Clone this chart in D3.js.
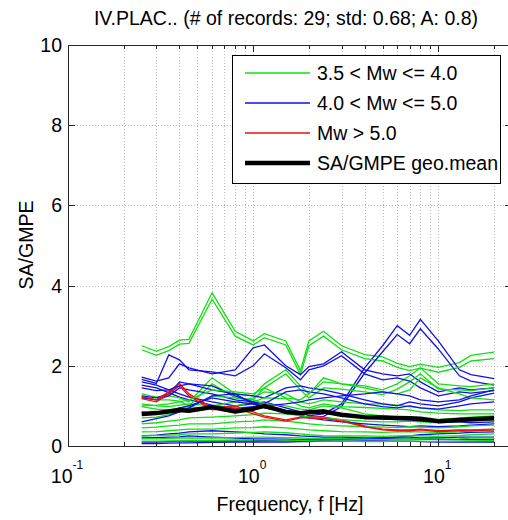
<html>
<head>
<script src="https://d3js.org/d3.v7.min.js"></script>
<style>
  body { margin: 0; background: #fff; }
  svg text { font-family: "Liberation Sans", Arial, sans-serif; fill: #000; }
</style>
</head>
<body>
<svg id="chart" width="508" height="520"></svg>
<script>
// frequencies (Hz) at which every curve is sampled
var freqs = [0.25, 0.3, 0.35, 0.4, 0.45, 0.6, 0.8, 1, 1.15, 1.5, 1.8, 2, 2.4, 3, 4, 5, 6, 7, 8, 10, 13, 15, 20];

// 3.5 < Mw <= 4.0
var greenCurves = [
  [2.50,2.36,2.48,2.64,2.66,3.82,2.86,2.62,2.80,2.62,1.88,2.62,2.86,2.50,2.28,2.22,2.06,1.98,2.04,1.96,2.08,2.26,2.34],
  [2.40,2.26,2.38,2.54,2.56,3.66,2.74,2.52,2.70,2.52,1.78,2.50,2.74,2.40,2.18,2.12,1.96,1.88,1.94,1.84,1.96,2.12,2.18],
  [1.30,1.22,1.25,1.20,1.10,1.70,1.30,1.25,1.55,1.90,1.50,1.30,1.60,1.55,1.50,1.40,1.55,1.75,1.95,1.55,1.50,1.48,1.55],
  [1.22,1.15,1.15,1.12,1.00,1.55,1.20,1.15,1.45,1.80,1.40,1.20,1.45,1.42,1.35,1.28,1.42,1.60,1.80,1.42,1.40,1.38,1.45],
  [1.05,1.00,0.98,1.02,1.05,1.00,1.10,1.20,1.35,1.30,1.10,1.05,1.15,1.10,1.05,1.05,1.02,0.98,0.95,0.90,0.88,0.90,0.90],
  [0.98,0.92,0.90,0.95,0.98,0.92,1.00,1.10,1.20,1.18,1.00,0.95,1.05,0.98,0.96,0.94,0.92,0.90,0.85,0.82,0.80,0.80,0.80],
  [0.70,0.72,0.78,0.85,0.95,1.25,1.20,1.15,1.05,1.00,0.92,0.90,1.00,0.95,0.80,0.75,0.72,0.70,0.68,0.66,0.70,0.72,0.75],
  [0.55,0.58,0.62,0.65,0.70,0.72,0.75,0.78,0.82,0.80,0.76,0.72,0.70,0.66,0.62,0.60,0.60,0.62,0.60,0.58,0.60,0.62,0.65],
  [0.45,0.47,0.50,0.52,0.55,0.55,0.60,0.62,0.65,0.62,0.58,0.55,0.52,0.50,0.48,0.47,0.46,0.48,0.47,0.45,0.48,0.50,0.52],
  [0.35,0.36,0.38,0.40,0.42,0.42,0.45,0.46,0.48,0.45,0.42,0.40,0.38,0.36,0.35,0.34,0.35,0.36,0.35,0.34,0.35,0.38,0.40],
  [0.25,0.26,0.27,0.28,0.30,0.30,0.32,0.34,0.35,0.33,0.30,0.28,0.26,0.25,0.25,0.24,0.25,0.26,0.25,0.24,0.26,0.28,0.30],
  [0.18,0.18,0.19,0.20,0.20,0.20,0.21,0.22,0.22,0.21,0.20,0.19,0.18,0.18,0.17,0.16,0.17,0.18,0.18,0.17,0.18,0.20,0.20],
  [1.00,1.02,1.05,1.10,1.15,1.40,1.35,1.30,1.45,1.20,1.15,1.30,1.70,1.55,1.45,1.35,1.30,1.40,1.70,1.45,1.30,1.20,1.15],
  [0.12,0.12,0.13,0.13,0.14,0.14,0.15,0.15,0.16,0.15,0.14,0.13,0.12,0.12,0.11,0.11,0.12,0.12,0.12,0.11,0.12,0.13,0.14]
];

// 4.0 < Mw <= 5.0
var blueCurves = [
  [1.60,1.52,1.40,1.30,1.22,1.10,1.00,1.05,1.10,0.95,0.85,0.75,0.80,1.05,1.95,2.50,3.00,2.76,3.16,2.62,1.90,1.78,1.68],
  [1.52,1.45,1.33,1.22,1.15,1.02,0.94,0.98,1.02,0.88,0.78,0.70,0.74,0.98,1.82,2.35,2.78,2.55,2.92,2.42,1.75,1.62,1.52],
  [1.72,1.62,1.70,2.05,1.95,1.80,1.90,2.45,2.52,2.00,1.78,1.98,2.05,2.35,1.90,1.80,1.75,1.80,1.60,1.35,1.45,1.40,1.45],
  [1.66,1.56,2.27,2.15,1.90,1.85,1.75,2.00,2.30,1.95,1.65,1.90,2.00,2.25,1.80,1.65,1.70,1.62,1.45,1.25,1.35,1.32,1.38],
  [1.25,1.20,1.30,1.60,1.55,1.40,1.30,1.25,1.20,1.45,1.50,1.45,1.40,1.30,1.15,1.05,1.00,1.10,1.05,1.00,1.10,1.20,1.32],
  [1.20,1.15,1.25,1.45,1.40,1.30,1.15,1.10,1.05,1.35,1.40,1.35,1.30,1.20,1.05,0.98,0.95,1.00,0.95,0.92,1.00,1.05,1.10],
  [0.60,0.68,0.75,0.85,0.95,1.25,1.30,1.05,0.95,0.85,0.75,0.70,0.65,0.60,0.55,0.52,0.50,0.48,0.50,0.48,0.50,0.52,0.55],
  [0.25,0.27,0.30,0.32,0.35,0.38,0.35,0.33,0.30,0.28,0.25,0.24,0.22,0.22,0.20,0.20,0.22,0.22,0.20,0.20,0.22,0.22,0.22],
  [0.20,0.21,0.22,0.23,0.25,0.22,0.20,0.18,0.18,0.17,0.16,0.15,0.15,0.16,0.18,0.20,0.22,0.25,0.28,0.30,0.32,0.34,0.35],
  [0.10,0.10,0.11,0.12,0.12,0.12,0.13,0.13,0.14,0.15,0.15,0.16,0.17,0.18,0.18,0.19,0.18,0.18,0.17,0.16,0.16,0.16,0.16],
  [0.06,0.06,0.07,0.08,0.08,0.09,0.10,0.10,0.10,0.10,0.11,0.11,0.12,0.12,0.13,0.13,0.12,0.12,0.11,0.10,0.10,0.10,0.10],
  [1.45,1.38,1.40,1.50,1.55,1.50,1.25,1.10,0.95,0.85,0.80,0.85,0.90,0.75,0.70,0.68,0.66,0.65,0.62,0.60,0.60,0.58,0.60],
  [0.85,0.80,0.85,0.95,1.00,1.20,1.10,1.05,1.00,1.05,1.10,1.15,1.20,1.25,1.30,1.35,1.30,1.25,1.15,1.10,1.15,1.25,1.40]
];

// Mw > 5.0
var redCurves = [
  [1.23,1.15,1.35,1.56,1.30,0.95,1.00,0.85,0.75,0.65,0.72,0.73,0.72,0.65,0.50,0.42,0.40,0.40,0.42,0.38,0.40,0.40,0.42],
  [1.18,1.10,1.30,1.50,1.25,0.90,0.95,0.80,0.72,0.62,0.70,0.70,0.69,0.62,0.48,0.40,0.38,0.38,0.40,0.36,0.38,0.38,0.40]
];

var geoMean = [0.80,0.82,0.86,0.90,0.88,0.97,0.86,0.93,1.00,0.85,0.82,0.84,0.86,0.78,0.72,0.71,0.70,0.69,0.68,0.62,0.65,0.67,0.69];

var yTicks = [0, 2, 4, 6, 8, 10];
var xMajor = [0.1, 1, 10];
var xMajorExp = ["-1", "0", "1"];
var legendLabels = ["3.5 < Mw <= 4.0", "4.0 < Mw <= 5.0", "Mw > 5.0", "SA/GMPE geo.mean"];
var legendColors = ["#10e010", "#1010e8", "#e81010", "#000000"];

var pL = 68, pT = 45, pB = 446, pR = 512;
var fs = "19.5px";
var svg = d3.select("#chart");
var x = d3.scaleLog().domain([0.1, 25]).range([pL, pR]);
var y = d3.scaleLinear().domain([0, 10]).range([pB, pT]);

// minor+major log ticks
var xAll = [];
[0.1, 1, 10].forEach(function(d){ for (var k = 1; k < 10; k++) { if (d*k <= 25) xAll.push(d*k); } });
xAll.push(20);

var grid = svg.append("g").attr("stroke", "#bcbcbc").attr("stroke-dasharray", "1,2").attr("stroke-width", 1);
grid.selectAll(".vg").data(xAll.filter(function(d){ return d > 0.1; })).enter().append("line")
  .attr("x1", function(d){ return Math.round(x(d)) + 0.5; })
  .attr("x2", function(d){ return Math.round(x(d)) + 0.5; })
  .attr("y1", pT).attr("y2", pB);
grid.selectAll(".hg").data(yTicks.slice(1, -1)).enter().append("line")
  .attr("x1", pL).attr("x2", pR)
  .attr("y1", function(d){ return Math.round(y(d)) + 0.5; })
  .attr("y2", function(d){ return Math.round(y(d)) + 0.5; });

var line = d3.line().x(function(d, i){ return x(freqs[i]); }).y(function(d){ return y(d); });

var curves = [];
for (var i = 0; i < 14; i++) {
  if (greenCurves[i]) curves.push({v: greenCurves[i], c: legendColors[0]});
  if (blueCurves[i]) curves.push({v: blueCurves[i], c: legendColors[1]});
  if (i == 5 || i == 9) curves.push({v: redCurves[i == 5 ? 0 : 1], c: legendColors[2]});
}
svg.append("g").selectAll("path").data(curves).enter().append("path")
  .attr("d", function(d){ return line(d.v); })
  .attr("fill", "none").attr("stroke", function(d){ return d.c; }).attr("stroke-width", 1.3);

svg.append("path").attr("d", line(geoMean)).attr("fill", "none")
  .attr("stroke", "#000").attr("stroke-width", 4.5).attr("stroke-linejoin", "round");

// axes box and inward ticks
var ax = svg.append("g").attr("stroke", "#262626").attr("stroke-width", 1).attr("fill", "none");
ax.append("rect").attr("x", pL + 0.5).attr("y", pT + 0.5).attr("width", pR - pL).attr("height", pB - pT);
ax.selectAll(".xt").data(xAll).enter().append("path")
  .attr("d", function(d){
    var len = xMajor.indexOf(d) >= 0 ? 7 : 4, px = Math.round(x(d)) + 0.5;
    return "M" + px + "," + pB + "v" + (-len) + "M" + px + "," + pT + "v" + len;
  });
ax.selectAll(".yt").data(yTicks).enter().append("path")
  .attr("d", function(d){
    var py = Math.round(y(d)) + 0.5;
    return "M" + pL + "," + py + "h7M" + pR + "," + py + "h-7";
  });

svg.append("g").selectAll("text").data(yTicks).enter().append("text")
  .attr("x", pL - 6).attr("y", function(d){ return y(d) + 7; })
  .attr("text-anchor", "end").style("font-size", fs).text(function(d){ return d; });

var xl = svg.append("g").selectAll("text").data(xMajor).enter().append("text")
  .attr("x", function(d){ return x(d) - 1; }).attr("y", 483)
  .attr("text-anchor", "middle").style("font-size", fs);
xl.append("tspan").text("10");
xl.append("tspan").attr("dy", -14).style("font-size", "12px").text(function(d, i){ return xMajorExp[i]; });

svg.append("text").attr("x", 286).attr("y", 25).attr("text-anchor", "middle").style("font-size", fs)
  .text("IV.PLAC.. (# of records: 29; std: 0.68; A: 0.8)");
svg.append("text").attr("x", 290).attr("y", 511).attr("text-anchor", "middle").style("font-size", fs)
  .text("Frequency, f [Hz]");
svg.append("text").attr("transform", "translate(33,245) rotate(-90)").attr("text-anchor", "middle")
  .style("font-size", fs).text("SA/GMPE");

// legend
var legendItems = legendLabels.map(function(t, i){
  return {label: t, color: legendColors[i], width: i == 3 ? 4.5 : 1.5, yPos: 73 + i * 30};
});
var lg = svg.append("g");
lg.append("rect").attr("x", 232.5).attr("y", 55.5).attr("width", 268).attr("height", 128)
  .attr("fill", "#fff").attr("stroke", "#000");
lg.selectAll(".lgline").data(legendItems).enter().append("line")
  .attr("x1", 245).attr("x2", 310)
  .attr("y1", function(d){ return d.yPos; }).attr("y2", function(d){ return d.yPos; })
  .attr("stroke", function(d){ return d.color; })
  .attr("stroke-width", function(d){ return d.width; });
lg.selectAll(".lgtext").data(legendItems).enter().append("text")
  .attr("x", 317).attr("y", function(d){ return d.yPos + 7; })
  .style("font-size", fs).text(function(d){ return d.label; });
</script>
</body>
</html>
